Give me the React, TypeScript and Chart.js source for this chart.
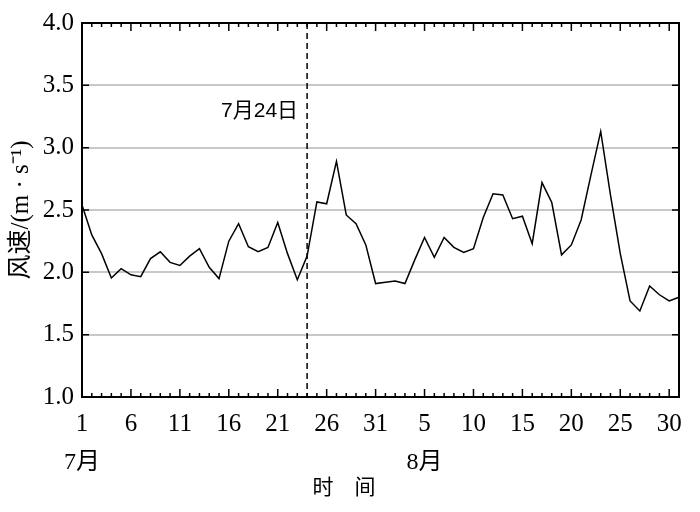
import React, { useEffect, useRef } from "react";
import { Chart, registerables } from "chart.js";

Chart.register(...registerables);

const dates = [
  "7-01","7-02","7-03","7-04","7-05","7-06","7-07","7-08","7-09","7-10",
  "7-11","7-12","7-13","7-14","7-15","7-16","7-17","7-18","7-19","7-20",
  "7-21","7-22","7-23","7-24","7-25","7-26","7-27","7-28","7-29","7-30","7-31",
  "8-01","8-02","8-03","8-04","8-05","8-06","8-07","8-08","8-09","8-10",
  "8-11","8-12","8-13","8-14","8-15","8-16","8-17","8-18","8-19","8-20",
  "8-21","8-22","8-23","8-24","8-25","8-26","8-27","8-28","8-29","8-30","8-31",
];

const windSpeed = [
  2.54, 2.30, 2.15, 1.955, 2.03, 1.98, 1.965, 2.11, 2.165, 2.08,
  2.055, 2.13, 2.19, 2.04, 1.95, 2.25, 2.39, 2.205, 2.165, 2.20,
  2.40, 2.15, 1.94, 2.13, 2.565, 2.55, 2.89, 2.46, 2.39, 2.22, 1.91,
  1.92, 1.93, 1.91, 2.10, 2.28, 2.12, 2.28, 2.20, 2.16, 2.19,
  2.44, 2.63, 2.62, 2.43, 2.45, 2.23, 2.72, 2.56, 2.14, 2.22,
  2.42, 2.78, 3.13, 2.62, 2.15, 1.77, 1.69, 1.89, 1.82, 1.77, 1.80,
];

const monthLabels = [
  { date: "7-01", text: "7月" },
  { date: "8-05", text: "8月" },
];

const markerDate = "7-24";
const markerText = "7月24日";
const markerLabelValue = 3.29;

const yMin = 1.0;
const yMax = 4.0;
const yStep = 0.5;
const majorEvery = 5;

const xTitle = "时　间";
const yTitle = "风速/(m · s⁻¹)";

const SERIF = "'Liberation Serif', 'Noto Sans CJK SC', serif";

const decorPlugin = {
  id: "decor",
  afterDatasetsDraw(chart: any) {
    const { ctx, chartArea, scales } = chart;
    const { top, bottom } = chartArea;
    const x = scales.x;
    const y = scales.y;
    const idx = dates.indexOf(markerDate);
    const px = x.getPixelForValue(idx);
    ctx.save();
    ctx.strokeStyle = "#000";
    ctx.lineWidth = 1.5;
    ctx.setLineDash([6, 4]);
    ctx.beginPath();
    ctx.moveTo(px, top);
    ctx.lineTo(px, bottom);
    ctx.stroke();
    ctx.setLineDash([]);
    ctx.fillStyle = "#000";
    ctx.font = "21px 'Liberation Sans', 'Noto Sans CJK SC', sans-serif";
    ctx.textAlign = "right";
    ctx.textBaseline = "middle";
    ctx.fillText(markerText, px - 9, y.getPixelForValue(markerLabelValue));
    ctx.restore();
  },
  afterDraw(chart: any) {
    const { ctx, chartArea, scales } = chart;
    const { left, right, top, bottom } = chartArea;
    const x = scales.x;
    const y = scales.y;
    ctx.save();
    ctx.strokeStyle = "#000";
    ctx.lineWidth = 1.5;
    ctx.beginPath();
    for (let i = 0; i < dates.length; i++) {
      const px = x.getPixelForValue(i);
      const len = i % majorEvery === 0 ? 8 : 4;
      ctx.moveTo(px, bottom);
      ctx.lineTo(px, bottom - len);
      ctx.moveTo(px, top);
      ctx.lineTo(px, top + len);
    }
    for (let v = yMin + yStep; v < yMax - 1e-6; v += yStep) {
      const py = y.getPixelForValue(v);
      ctx.moveTo(right, py);
      ctx.lineTo(right - 7, py);
      ctx.moveTo(left, py);
      ctx.lineTo(left + 7, py);
    }
    ctx.stroke();
    ctx.lineWidth = 2;
    ctx.strokeRect(left, top, right - left, bottom - top);

    ctx.fillStyle = "#000";
    ctx.font = "24px " + SERIF;
    ctx.textAlign = "center";
    ctx.textBaseline = "middle";
    monthLabels.forEach((m) => {
      const px = x.getPixelForValue(dates.indexOf(m.date));
      ctx.fillText(m.text, px, bottom + 66);
    });
    ctx.font = "21px " + SERIF;
    ctx.fillText(xTitle, chart.width / 2 - 6, bottom + 91);
    ctx.restore();
  },
};

export default function App() {
  const canvasRef = useRef<HTMLCanvasElement | null>(null);

  useEffect(() => {
    document.body.style.margin = "0";
    const canvas = canvasRef.current;
    if (!canvas) return;
    const chart = new Chart(canvas, {
      type: "line",
      data: {
        labels: dates,
        datasets: [
          {
            data: windSpeed,
            borderColor: "#000",
            borderWidth: 1.5,
            pointRadius: 0,
            tension: 0,
            fill: false,
          },
        ],
      },
      options: {
        responsive: false,
        animation: false,
        layout: { padding: { top: 20, right: 21, left: 0, bottom: 0 } },
        plugins: {
          legend: { display: false },
          tooltip: { enabled: false },
        },
        scales: {
          x: {
            type: "category",
            offset: false,
            grid: { display: false, drawTicks: false },
            border: { display: false },
            ticks: {
              autoSkip: false,
              maxRotation: 0,
              minRotation: 0,
              padding: 12,
              color: "#000",
              font: { family: SERIF, size: 25 },
              callback: (_v: any, i: number) =>
                i % majorEvery === 0 ? String(parseInt(dates[i].split("-")[1], 10)) : null,
            },
            afterFit: (s: any) => {
              s.height = 115;
            },
          },
          y: {
            min: yMin,
            max: yMax,
            grid: {
              drawTicks: false,
              lineWidth: 2,
              color: (c: any) =>
                c.tick && (c.tick.value <= yMin || c.tick.value >= yMax) ? "rgba(0,0,0,0)" : "#c8c8c8",
            },
            border: { display: false },
            ticks: {
              stepSize: yStep,
              padding: 8,
              color: "#000",
              font: { family: SERIF, size: 25 },
              callback: (v: any) => Number(v).toFixed(1),
            },
            title: {
              display: true,
              text: yTitle,
              color: "#000",
              font: { family: SERIF, size: 25 },
              padding: { top: 6, bottom: 0 },
            },
            afterFit: (s: any) => {
              s.width = 82;
            },
          },
        },
      },
      plugins: [decorPlugin],
    });
    return () => chart.destroy();
  }, []);

  return (
    <div style={{ width: 700, height: 512 }}>
      <canvas ref={canvasRef} width={700} height={512} />
    </div>
  );
}
